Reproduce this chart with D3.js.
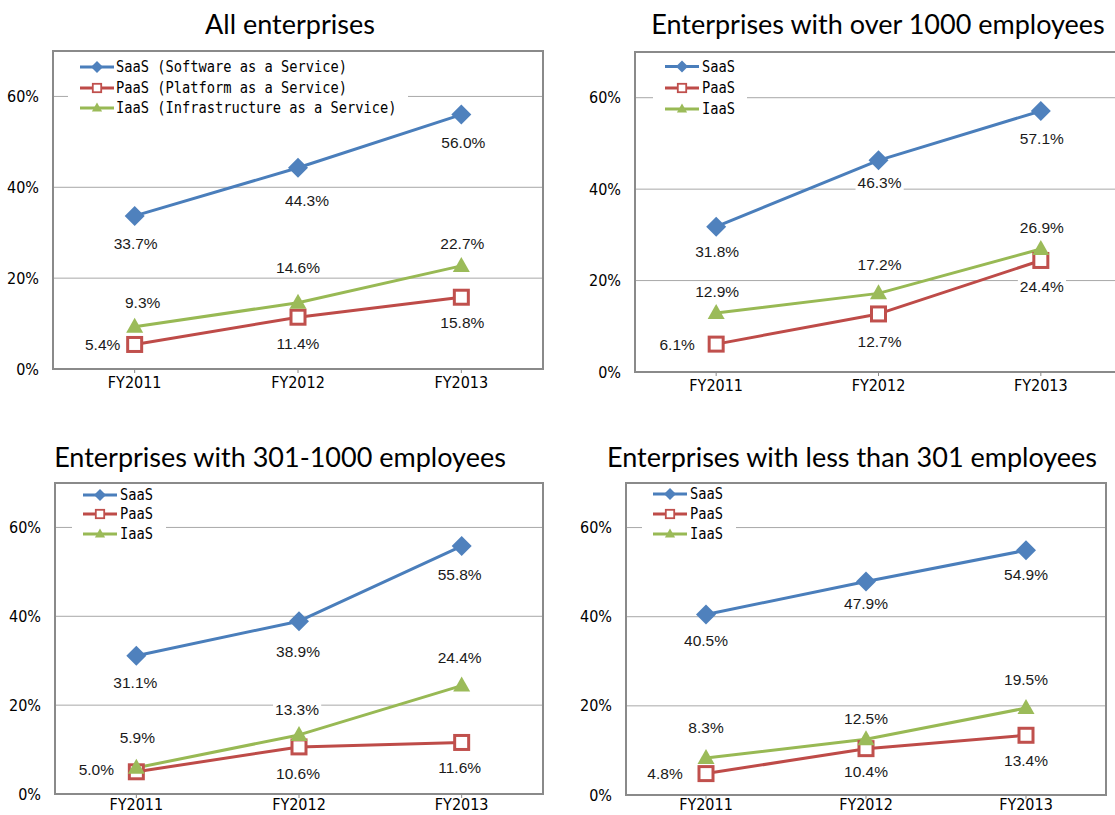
<!DOCTYPE html>
<html>
<head>
<meta charset="utf-8">
<script src="https://cdn.jsdelivr.net/npm/d3@7"></script>
<style>
  body { margin: 0; background: #fff; }
  svg { display: block; }
</style>
</head>
<body>
<div id="chart"></div>
<script>
// data
const years = ["FY2011", "FY2012", "FY2013"];
const seriesNames = ["SaaS", "PaaS", "IaaS"];
const legendFull = [
  "SaaS (Software as a Service)",
  "PaaS (Platform as a Service)",
  "IaaS (Infrastructure as a Service)",
];
const titles = [
  "All enterprises",
  "Enterprises with over 1000 employees",
  "Enterprises with 301-1000 employees",
  "Enterprises with less than 301 employees",
];
const yTicks = [0, 20, 40, 60];

const allSaaS = [33.7, 44.3, 56.0];
const allPaaS = [5.4, 11.4, 15.8];
const allIaaS = [9.3, 14.6, 22.7];

const over1000SaaS = [31.8, 46.3, 57.1];
const over1000PaaS = [6.1, 12.7, 24.4];
const over1000IaaS = [12.9, 17.2, 26.9];

const mid301SaaS = [31.1, 38.9, 55.8];
const mid301PaaS = [5.0, 10.6, 11.6];
const mid301IaaS = [5.9, 13.3, 24.4];

const under301SaaS = [40.5, 47.9, 54.9];
const under301PaaS = [4.8, 10.4, 13.4];
const under301IaaS = [8.3, 12.5, 19.5];

// styles
const LINE_COLORS = ["#4A7EBB", "#BE4B48", "#98B954"];
const MARK_COLORS = ["#4F81BD", "#C0504D", "#9BBB59"];
const FRAME = "#8a8a8a";
const GRID = "#a8a8a8";
const NARROW = "'Liberation Sans Narrow', 'DejaVu Sans Condensed', 'Arial Narrow', sans-serif";
const MONO = "'DejaVu Sans Mono', 'Liberation Mono', monospace";
const CHAR_W = 8.25; // legend glyph advance

// panel layout (label offsets are per series, per year: [dx, dy])
const panels = [
  {
    title: titles[0], values: [allSaaS, allPaaS, allIaaS],
    left: 53, right: 543, top: 51, bottom: 369, titleX: 290, titleY: 34,
    legend: { full: true, box: [68, 56, 340, 62], lineX: 80, textX: 116, rows: [67, 88, 108] },
    offsets: [
      [[1, 28], [9, 33], [2, 28]],
      [[-32, 0], [0, 26], [1, 25]],
      [[8, -24], [0, -35], [1, -22]],
    ],
  },
  {
    title: titles[1], values: [over1000SaaS, over1000PaaS, over1000IaaS],
    left: 635, right: 1122, top: 52, bottom: 372, titleX: 878, titleY: 34,
    legend: { full: false, box: [653, 56, 94, 62], lineX: 665, textX: 702, rows: [66.5, 88, 109] },
    offsets: [
      [[1, 25], [1, 22], [1, 28]],
      [[-39, 0], [1, 28], [1, 26]],
      [[1, -21], [1, -29], [1, -21]],
    ],
  },
  {
    title: titles[2], values: [mid301SaaS, mid301PaaS, mid301IaaS],
    left: 55, right: 543, top: 483, bottom: 794, titleX: 280, titleY: 467,
    legend: { full: false, box: [72, 486, 94, 58], lineX: 83, textX: 120, rows: [495, 514, 534] },
    offsets: [
      [[-1, 27], [-1, 30], [-2, 28]],
      [[-40, -2], [-1, 27], [-2, 25]],
      [[1, -30], [-2, -25], [-2, -28]],
    ],
  },
  {
    title: titles[3], values: [under301SaaS, under301PaaS, under301IaaS],
    left: 626, right: 1106, top: 483, bottom: 795, titleX: 852, titleY: 467,
    legend: { full: false, box: [642, 486, 94, 58], lineX: 653, textX: 690, rows: [494, 514, 534] },
    offsets: [
      [[0, 26], [0, 22], [0, 24]],
      [[-41, 0], [0, 23], [0, 25]],
      [[0, -30], [0, -21], [0, -29]],
    ],
  },
];

const svg = d3
  .select("#chart")
  .append("svg")
  .attr("width", 1115)
  .attr("height", 815);

// marker shapes
function drawMarker(g, i, x, y, s) {
  if (i === 0) {
    const r = 10 * s;
    g.append("path")
      .attr("d", `M${x},${y - r}L${x + r},${y}L${x},${y + r}L${x - r},${y}Z`)
      .attr("fill", MARK_COLORS[0]);
  } else if (i === 1) {
    const h = 7 * s;
    g.append("rect")
      .attr("x", x - h)
      .attr("y", y - h)
      .attr("width", 2 * h)
      .attr("height", 2 * h)
      .attr("fill", "#fff")
      .attr("stroke", MARK_COLORS[1])
      .attr("stroke-width", 3 * s);
  } else {
    const w = 8.5 * s;
    const h = 15 * s;
    g.append("path")
      .attr("d", `M${x},${y - h * 0.6}L${x + w},${y + h * 0.4}L${x - w},${y + h * 0.4}Z`)
      .attr("fill", MARK_COLORS[2]);
  }
}

function renderPanel(p) {
  const g = svg.append("g");

  const x = d3.scaleBand().domain(years).range([p.left, p.right]);
  const y = d3.scaleLinear().domain([0, 70]).range([p.bottom, p.top]);
  const cx = (d) => x(d) + x.bandwidth() / 2;

  // title
  g.append("text")
    .text(p.title)
    .attr("x", p.titleX)
    .attr("y", p.titleY)
    .attr("text-anchor", "middle")
    .attr("font-family", "Lato, 'Open Sans', sans-serif")
    .attr("font-size", "27px")
    .attr("fill", "#000");

  // gridlines
  g.append("g")
    .selectAll("line")
    .data(yTicks.filter((t) => t > 0))
    .join("line")
    .attr("x1", p.left)
    .attr("x2", p.right)
    .attr("y1", (d) => y(d))
    .attr("y2", (d) => y(d))
    .attr("stroke", GRID)
    .attr("stroke-width", 1);

  // frame
  g.append("rect")
    .attr("x", p.left)
    .attr("y", p.top)
    .attr("width", p.right - p.left)
    .attr("height", p.bottom - p.top)
    .attr("fill", "none")
    .attr("stroke", FRAME)
    .attr("stroke-width", 2);

  // y tick labels
  g.append("g")
    .selectAll("text")
    .data(yTicks)
    .join("text")
    .text((d) => d + "%")
    .attr("x", p.left - 14)
    .attr("y", (d) => y(d))
    .attr("dy", "0.35em")
    .attr("text-anchor", "end")
    .attr("font-family", NARROW)
    .attr("font-size", "16px")
    .attr("fill", "#000");

  // x axis ticks + labels
  const xa = g.append("g");
  xa.selectAll("line")
    .data(years)
    .join("line")
    .attr("x1", cx)
    .attr("x2", cx)
    .attr("y1", p.bottom)
    .attr("y2", p.bottom + 4)
    .attr("stroke", FRAME)
    .attr("stroke-width", 1);
  xa.selectAll("text")
    .data(years)
    .join("text")
    .text((d) => d)
    .attr("x", cx)
    .attr("y", Math.min(p.bottom + 13, 804))
    .attr("dy", "0.35em")
    .attr("text-anchor", "middle")
    .attr("font-family", NARROW)
    .attr("font-size", "16px")
    .attr("fill", "#000");

  // legend (white box hides the gridline behind it)
  const lg = g.append("g");
  const b = p.legend.box;
  lg.append("rect")
    .attr("x", b[0])
    .attr("y", b[1])
    .attr("width", b[2])
    .attr("height", b[3])
    .attr("fill", "#fff");
  seriesNames.forEach((name, i) => {
    const ry = p.legend.rows[i];
    const label = p.legend.full ? legendFull[i] : name;
    lg.append("line")
      .attr("x1", p.legend.lineX)
      .attr("x2", p.legend.lineX + 34)
      .attr("y1", ry)
      .attr("y2", ry)
      .attr("stroke", LINE_COLORS[i])
      .attr("stroke-width", 3);
    drawMarker(lg, i, p.legend.lineX + 17, ry, 0.6);
    lg.append("text")
      .text(label)
      .attr("x", p.legend.textX)
      .attr("y", ry)
      .attr("dy", "0.36em")
      .attr("font-family", MONO)
      .attr("font-size", "15px")
      .attr("textLength", label.length * CHAR_W)
      .attr("lengthAdjust", "spacingAndGlyphs")
      .attr("fill", "#000");
  });

  // lines and markers
  p.values.forEach((vals, i) => {
    const line = d3
      .line()
      .x((_, j) => cx(years[j]))
      .y((d) => y(d));
    g.append("path")
      .attr("d", line(vals))
      .attr("fill", "none")
      .attr("stroke", LINE_COLORS[i])
      .attr("stroke-width", 3)
      .attr("stroke-linejoin", "round");
  });
  p.values.forEach((vals, i) => {
    const mg = g.append("g");
    vals.forEach((v, j) => drawMarker(mg, i, cx(years[j]), y(v), 1));
  });

  // data labels with white backing
  p.values.forEach((vals, i) => {
    vals.forEach((v, j) => {
      const [dx, dy] = p.offsets[i][j];
      const lx = cx(years[j]) + dx;
      const ly = y(v) + dy;
      const lblG = g.append("g");
      const bg = lblG.append("rect").attr("fill", "#fff");
      const t = lblG
        .append("text")
        .text(v.toFixed(1) + "%")
        .attr("x", lx)
        .attr("y", ly)
        .attr("dy", "0.35em")
        .attr("text-anchor", "middle")
        .attr("font-family", "'Liberation Sans', Arial, sans-serif")
        .attr("font-size", "15.5px")
        .attr("fill", "#1a1a1a");
      const bb = t.node().getBBox();
      bg.attr("x", bb.x - 2)
        .attr("y", bb.y)
        .attr("width", bb.width + 4)
        .attr("height", bb.height);
    });
  });
}

panels.forEach(renderPanel);
</script>
</body>
</html>
